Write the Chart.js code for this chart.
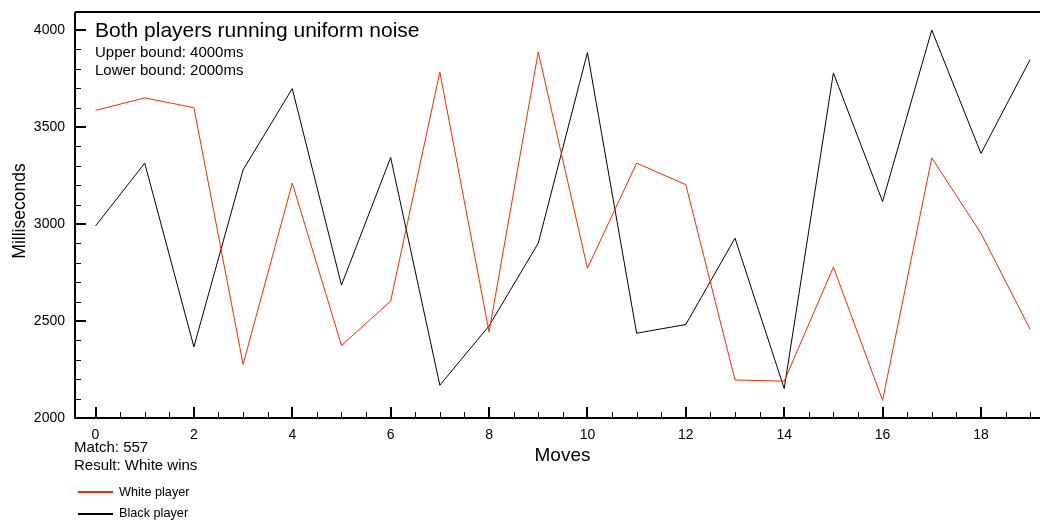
<!DOCTYPE html>
<html>
<head>
<meta charset="utf-8">
<script src="https://cdn.jsdelivr.net/npm/chart.js@4.4.1/dist/chart.umd.min.js"></script>
<style>
  html, body { margin: 0; padding: 0; background: #ffffff; }
  #wrap { width: 1040px; height: 520px; position: relative; }
</style>
</head>
<body>
<div id="wrap"><canvas id="c" width="1040" height="520"></canvas></div>
<script>
// Move index for each turn in the match
const moves = [0,1,2,3,4,5,6,7,8,9,10,11,12,13,14,15,16,17,18,19];

// Thinking time per move (milliseconds)
const whiteTimes = [3586,3650,3600,2277,3211,2374,2603,3784,2444,3887,2772,3314,3203,2196,2190,2778,2091,3341,2952,2457];
const blackTimes = [2990,3314,2367,3279,3698,2685,3343,2169,2475,2901,3884,2437,2482,2927,2152,3779,3116,4000,3364,3848];

// Axis tick values
const yMajorTicks = [2000,2500,3000,3500,4000];
const yMinorTicks = [2100,2200,2300,2400,2600,2700,2800,2900,3100,3200,3300,3400,3600,3700,3800,3900,4100];
const xMajorTicks = [0,2,4,6,8,10,12,14,16,18];
const xMinorTicks = [0.5,1,1.5,2.5,3,3.5,4.5,5,5.5,6.5,7,7.5,8.5,9,9.5,10.5,11,11.5,12.5,13,13.5,14.5,15,15.5,16.5,17,17.5,18.5,19];

// Text annotations
const titleText = 'Both players running uniform noise';
const upperText = 'Upper bound: 4000ms';
const lowerText = 'Lower bound: 2000ms';
const matchText = 'Match: 557';
const resultText = 'Result: White wins';
const whiteLabel = 'White player';
const blackLabel = 'Black player';

const FONT = '"Liberation Sans", Arial, Helvetica, sans-serif';
const RED = 'rgb(255,38,0)';

const toPoints = (vals) => vals.map((v, i) => ({ x: moves[i], y: v }));

// Frame, inward ticks, titles, notes and legend
const decor = {
  id: 'decor',
  afterDraw(chart) {
    const ctx = chart.ctx;
    const a = chart.chartArea;
    const xs = chart.scales.x, ys = chart.scales.y;
    ctx.save();
    ctx.strokeStyle = '#000';
    ctx.lineWidth = 2;
    ctx.beginPath();
    ctx.moveTo(a.left, a.top);
    ctx.lineTo(a.left, a.bottom);
    ctx.lineTo(a.right + 2, a.bottom);
    ctx.moveTo(a.left, a.top);
    ctx.lineTo(a.right + 2, a.top);
    ctx.stroke();

    // y ticks
    ctx.lineWidth = 2;
    ctx.beginPath();
    yMajorTicks.forEach(v => { const p = Math.round(ys.getPixelForValue(v)); ctx.moveTo(a.left, p); ctx.lineTo(a.left + 11, p); });
    ctx.stroke();
    ctx.lineWidth = 1;
    ctx.beginPath();
    yMinorTicks.forEach(v => { const p = Math.round(ys.getPixelForValue(v)) + 0.5; if (p > a.top + 1) { ctx.moveTo(a.left, p); ctx.lineTo(a.left + 6, p); } });
    ctx.stroke();

    // x ticks
    ctx.lineWidth = 2;
    ctx.beginPath();
    xMajorTicks.forEach(v => { const p = Math.round(xs.getPixelForValue(v)); ctx.moveTo(p, a.bottom); ctx.lineTo(p, a.bottom - 11); });
    ctx.stroke();
    ctx.lineWidth = 1;
    ctx.beginPath();
    xMinorTicks.forEach(v => { const p = Math.round(xs.getPixelForValue(v)) + 0.5; ctx.moveTo(p, a.bottom); ctx.lineTo(p, a.bottom - 6); });
    ctx.stroke();

    ctx.fillStyle = '#000';
    ctx.textBaseline = 'middle';
    ctx.textAlign = 'left';
    ctx.font = '21px ' + FONT;
    ctx.fillText(titleText, 95, 31);
    ctx.font = '15px ' + FONT;
    ctx.fillText(upperText, 95, 53);
    ctx.fillText(lowerText, 95, 71);
    ctx.fillText(matchText, 74, 448);
    ctx.fillText(resultText, 74, 466);

    // axis titles
    ctx.font = '19px ' + FONT;
    ctx.textAlign = 'center';
    ctx.fillText('Moves', (a.left + a.right) / 2 + 5, 456);
    ctx.save();
    ctx.translate(20, 211);
    ctx.rotate(-Math.PI / 2);
    ctx.font = '17.5px ' + FONT;
    ctx.fillText('Milliseconds', 0, 0);
    ctx.restore();

    // legend
    ctx.lineWidth = 2;
    ctx.strokeStyle = RED;
    ctx.beginPath(); ctx.moveTo(78, 492); ctx.lineTo(113, 492); ctx.stroke();
    ctx.strokeStyle = '#000';
    ctx.beginPath(); ctx.moveTo(78, 514); ctx.lineTo(113, 514); ctx.stroke();
    ctx.textAlign = 'left';
    ctx.font = '12.7px ' + FONT;
    ctx.fillText(whiteLabel, 119, 492);
    ctx.fillText(blackLabel, 119, 513);
    ctx.restore();
  }
};

new Chart(document.getElementById('c'), {
  type: 'line',
  data: {
    datasets: [
      { label: whiteLabel, data: toPoints(whiteTimes), borderColor: RED, borderWidth: 1, pointRadius: 0, tension: 0, fill: false },
      { label: blackLabel, data: toPoints(blackTimes), borderColor: '#000', borderWidth: 1, pointRadius: 0, tension: 0, fill: false }
    ]
  },
  options: {
    responsive: false,
    animation: false,
    events: [],
    layout: { padding: { top: 12, right: 0, left: 0, bottom: 0 } },
    plugins: { legend: { display: false }, tooltip: { enabled: false }, title: { display: false } },
    scales: {
      x: {
        type: 'linear',
        min: -0.417,
        max: 19.2,
        grid: { display: false, drawTicks: false },
        border: { display: false },
        afterBuildTicks: (s) => { s.ticks = xMajorTicks.map(v => ({ value: v })); },
        ticks: { color: '#000', font: { family: FONT, size: 14 }, padding: 9, maxRotation: 0, autoSkip: false, callback: (v) => String(v) },
        afterFit: (s) => { s.height = 102; s.paddingLeft = 0; s.paddingRight = 0; }
      },
      y: {
        type: 'linear',
        min: 2000,
        max: 4093,
        grid: { display: false, drawTicks: false },
        border: { display: false },
        afterBuildTicks: (s) => { s.ticks = yMajorTicks.map(v => ({ value: v })); },
        ticks: { color: '#000', font: { family: FONT, size: 14 }, padding: 10, callback: (v) => String(v) },
        afterFit: (s) => { s.width = 75; s.paddingTop = 0; s.paddingBottom = 0; }
      }
    }
  },
  plugins: [decor]
});
</script>
</body>
</html>
